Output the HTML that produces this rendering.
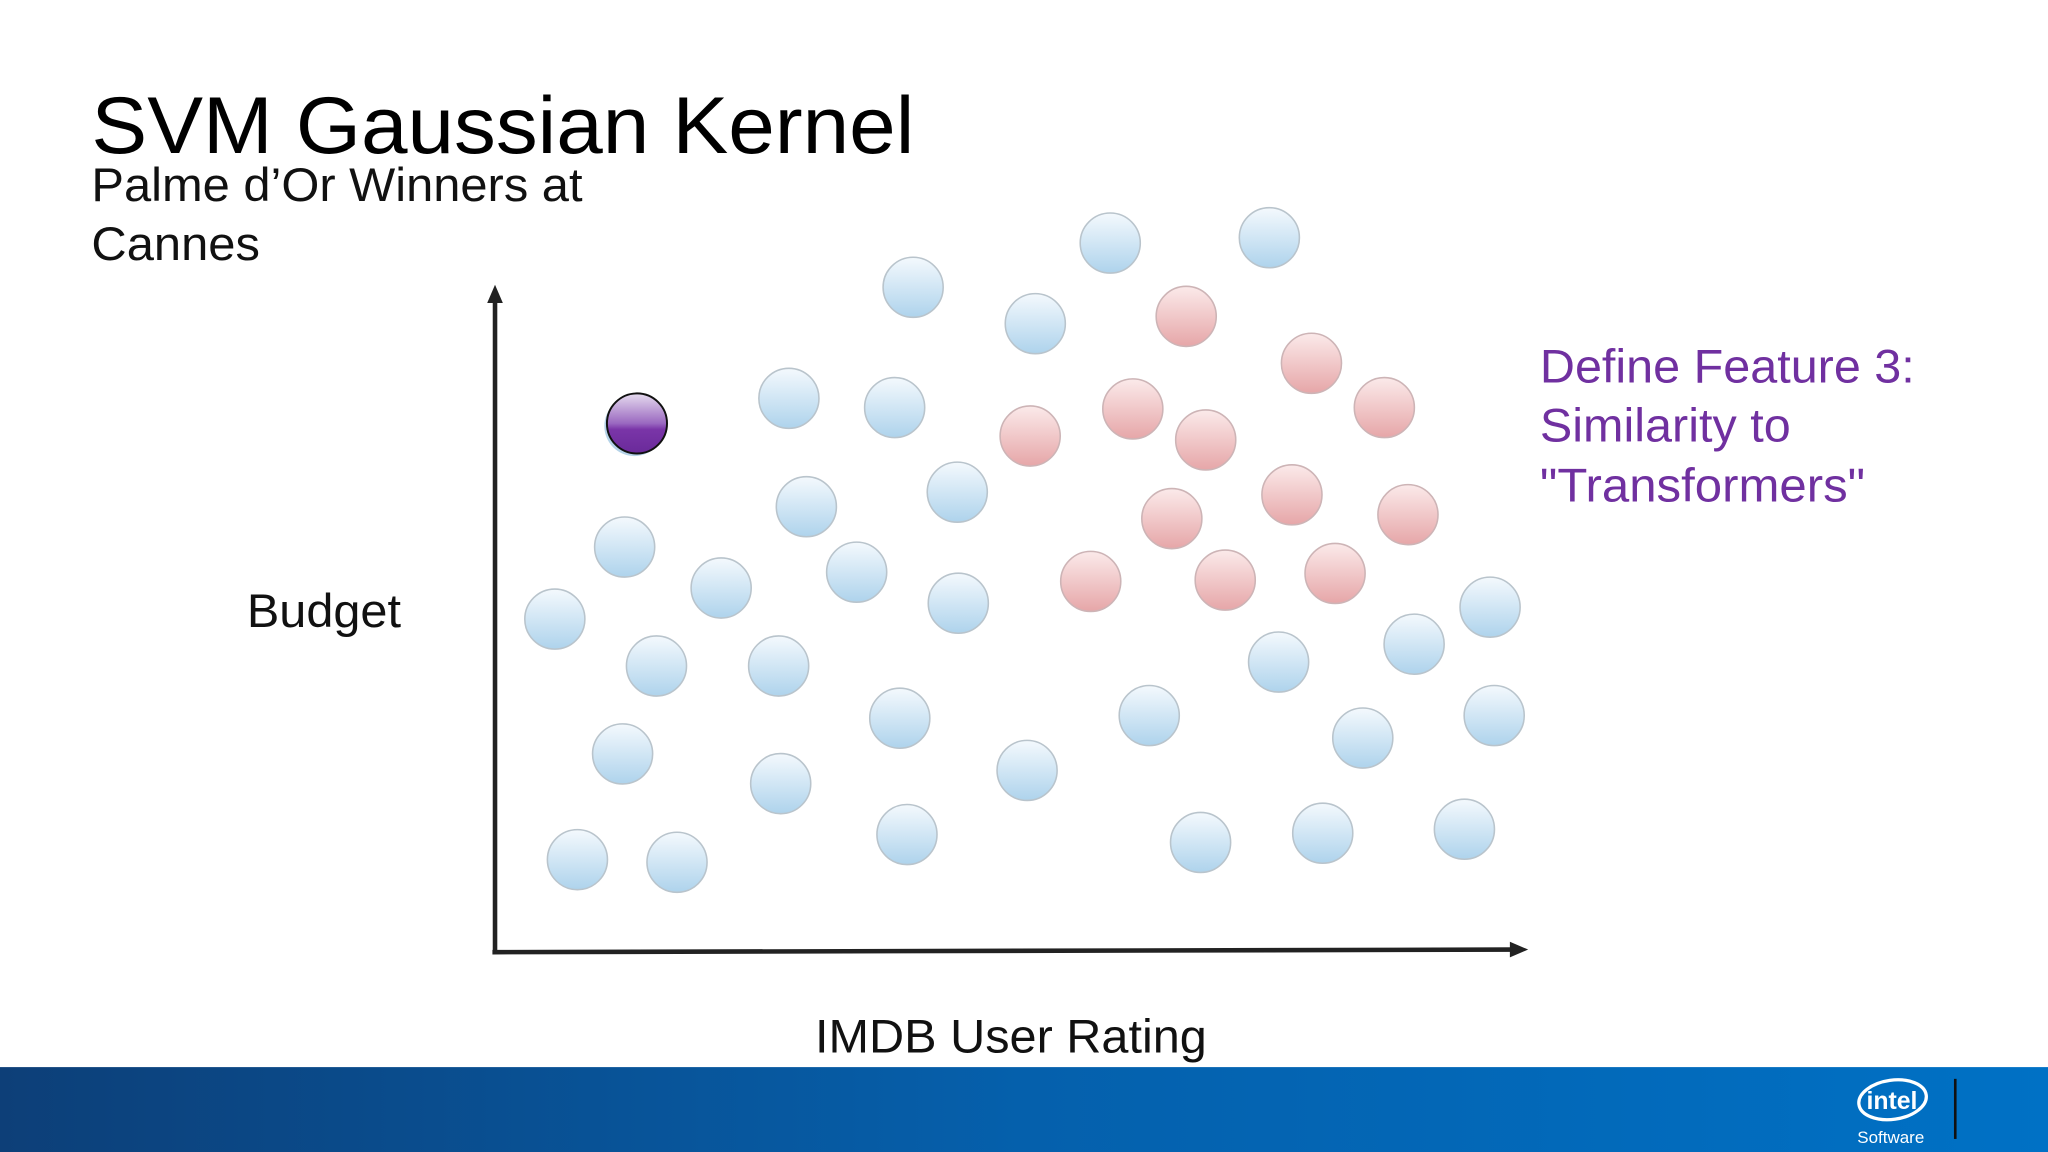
<!DOCTYPE html>
<html><head><meta charset="utf-8"><style>
html,body{margin:0;padding:0;background:#fff;}
svg{display:block;font-family:"Liberation Sans",sans-serif;}
</style></head><body>
<svg id="chart" width="2048" height="1152" viewBox="0 0 1568 882" xmlns="http://www.w3.org/2000/svg">
<defs>
<linearGradient id="gBlue" x1="0" y1="0" x2="0" y2="1"><stop offset="0" stop-color="#f4f9fd"/><stop offset="1" stop-color="#aed3ec"/></linearGradient>
<linearGradient id="gRed" x1="0" y1="0" x2="0" y2="1"><stop offset="0" stop-color="#fbeaea"/><stop offset="1" stop-color="#e6a6a8"/></linearGradient>
<linearGradient id="gPur" x1="0" y1="0" x2="0" y2="1"><stop offset="0" stop-color="#e6dcef"/><stop offset="0.5" stop-color="#9a68c0"/><stop offset="0.6" stop-color="#7a35a8"/><stop offset="1" stop-color="#6a2a9a"/></linearGradient>
<linearGradient id="gFoot" x1="0" y1="0" x2="1" y2="0"><stop offset="0" stop-color="#0d3f78"/><stop offset="0.5" stop-color="#0560ac"/><stop offset="1" stop-color="#0071c5"/></linearGradient>
</defs>
<text x="70" y="117" font-size="62" textLength="630" lengthAdjust="spacingAndGlyphs" fill="#000">SVM Gaussian Kernel</text>
<text x="70" y="154" font-size="36" textLength="376" lengthAdjust="spacingAndGlyphs" fill="#111">Palme d’Or Winners at</text>
<text x="70" y="199" font-size="36" textLength="129" lengthAdjust="spacingAndGlyphs" fill="#111">Cannes</text>
<text x="189" y="480" font-size="36" textLength="118" lengthAdjust="spacingAndGlyphs" fill="#111">Budget</text>
<text x="624" y="806" font-size="36" textLength="300" lengthAdjust="spacingAndGlyphs" fill="#111">IMDB User Rating</text>
<g font-size="36" fill="#7030a0">
<text x="1179" y="293" textLength="287" lengthAdjust="spacingAndGlyphs">Define Feature 3:</text>
<text x="1179" y="338" textLength="192" lengthAdjust="spacingAndGlyphs">Similarity to</text>
<text x="1179" y="384" textLength="249" lengthAdjust="spacingAndGlyphs">"Transformers"</text>
</g>
<g stroke="#222" stroke-width="3.5" fill="#222">
<line x1="379" y1="730" x2="379" y2="228"/>
<polygon points="373,232 379,218 385,232" stroke="none"/>
<line x1="377" y1="729" x2="1160" y2="727"/>
<polygon points="1156,721 1170,727 1156,733" stroke="none"/>
</g>
<g id="points"></g>
<rect x="0" y="817" width="1568" height="65" fill="url(#gFoot)"/>
<g fill="#fff">
<ellipse cx="1449" cy="842" rx="26" ry="15" fill="none" stroke="#fff" stroke-width="2.5" transform="rotate(-8 1449 842)"/>
<text x="1429" y="849" font-size="19" font-weight="bold">intel</text>
<text x="1422" y="875" font-size="13">Software</text>
</g>
<line x1="1497" y1="826" x2="1497" y2="872" stroke="#111" stroke-width="2"/>
</svg>
<script>
const blueX=[4.06,5.98,7.53,5.25,2.85,3.88,4.49,3.02,1.25,2.19,3.51,4.50,0.57,1.56,2.75,3.93,1.23,2.77,5.17,4.00,0.79,1.76,6.36,7.62,8.94,9.68,9.72,8.44,6.86,8.05,9.43];
const blueY=[10.06,10.73,10.81,9.51,8.38,8.24,6.96,6.74,6.13,5.51,5.75,5.28,5.04,4.33,4.33,3.54,3.00,2.55,2.75,1.78,1.40,1.36,3.58,4.39,4.66,5.22,3.58,3.24,1.66,1.80,1.86];
const redX=[6.72,7.94,6.20,5.20,6.91,8.65,6.58,7.75,8.88,5.79,7.10,8.17];
const redY=[9.62,8.91,8.22,7.81,7.75,8.24,6.56,6.92,6.62,5.61,5.63,5.73];
const purpleX=[1.37];
const purpleY=[8.00];
function xs(v){return 380+v*78.6;}
function ys(v){return 729-v*50.6;}
const g=document.getElementById('points');
const NS='http://www.w3.org/2000/svg';
function draw(X,Y,fill,stroke,sw,name){
  for(let i=0;i<X.length;i++){
    const c=document.createElementNS(NS,'circle');
    c.setAttribute('cx',xs(X[i]));c.setAttribute('cy',ys(Y[i]));c.setAttribute('r',23);
    c.setAttribute('fill',fill);c.setAttribute('stroke',stroke);c.setAttribute('stroke-width',sw);
    
    
    g.appendChild(c);
  }
}
draw(blueX,blueY,'url(#gBlue)','#b9c4cc',1.2,'blue-point');
draw(redX,redY,'url(#gRed)','#cdb4b6',1.2,'red-point');
const sh=document.createElementNS(NS,'circle');
sh.setAttribute('cx',xs(purpleX[0])-2);sh.setAttribute('cy',ys(purpleY[0])+2);sh.setAttribute('r',23);sh.setAttribute('fill','#b5d3e8');


g.appendChild(sh);
draw(purpleX,purpleY,'url(#gPur)','#111',1.5,'transformers-point');
</script>
</body></html>
